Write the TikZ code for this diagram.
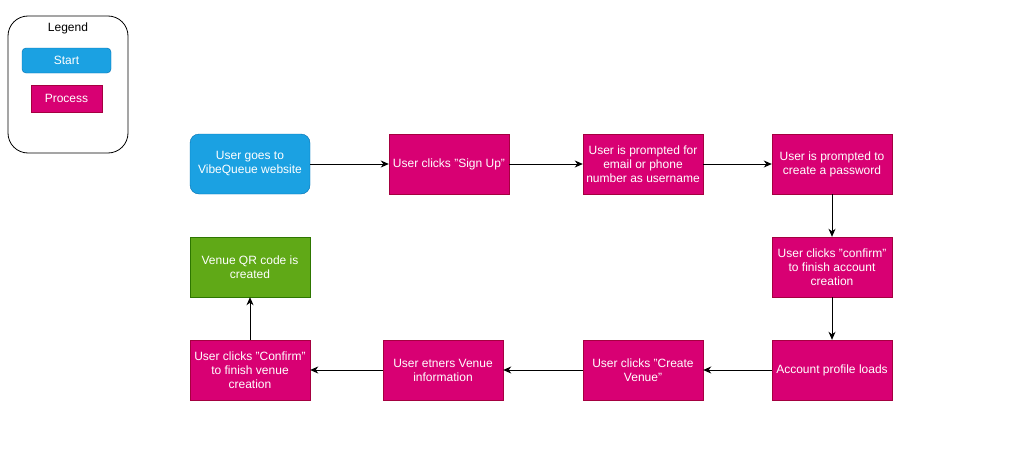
\documentclass[tikz,border=0pt]{standalone}
\usepackage{fontspec}
\setmainfont{Liberation Sans}
\usepackage{xcolor}
\usetikzlibrary{arrows.meta}

\definecolor{startfill}{HTML}{1BA1E2}
\definecolor{startline}{HTML}{006EAF}
\definecolor{procfill}{HTML}{D80073}
\definecolor{procline}{HTML}{A50040}
\definecolor{endfill}{HTML}{60A917}
\definecolor{endline}{HTML}{2D7600}

\tikzset{
  startbox/.style={draw=startline, fill=startfill, text=white, rounded corners=9pt,
    minimum width=120pt, minimum height=60pt, align=center, inner sep=0pt},
  procbox/.style={draw=procline, fill=procfill, text=white,
    minimum width=120pt, minimum height=60pt, align=center, inner sep=0pt},
  endbox/.style={draw=endline, fill=endfill, text=white,
    minimum width=120pt, minimum height=60pt, align=center, inner sep=0pt},
  flow/.style={-{Stealth[length=8pt,width=7pt,inset=2.5pt]}, line width=1pt},
}

\begin{document}
\begin{tikzpicture}[x=1pt, y=-1pt, font=\fontsize{12}{14}\selectfont]
\useasboundingbox (0, 0) rectangle (1035, 463);

% legend
\draw[rounded corners=20pt, line width=0.8pt] (8, 16) rectangle (128, 153);
\node (legend) at (68, 28.5) {Legend};
\node[startbox, minimum width=89pt, minimum height=25pt, rounded corners=4pt] (lstart) at (66.5, 60.5) {Start};
\node[procbox, minimum width=71pt, minimum height=27pt] (lproc) at (66.5, 98.5) {Process};

% top row
\node[startbox] (website) at (250, 164) {User goes to\\VibeQueue website};
\node[procbox] (signup) at (449, 164) {User clicks "Sign Up"};
\node[procbox] (email) at (643, 164) {User is prompted for\\email or phone\\number as username};
\node[procbox] (password) at (832, 164) {User is prompted to\\create a password};

% middle row
\node[procbox] (confirm) at (832, 267) {User clicks "confirm"\\to finish account\\creation};
\node[endbox] (qrcode) at (250, 267) {Venue QR code is\\created};

% bottom row
\node[procbox] (profile) at (832, 370) {Account profile loads};
\node[procbox] (create) at (643, 370) {User clicks "Create\\Venue"};
\node[procbox] (enters) at (443, 370) {User etners Venue\\information};
\node[procbox] (vconfirm) at (250, 370) {User clicks "Confirm"\\to finish venue\\creation};

\draw[flow] (website) -- (signup);
\draw[flow] (signup) -- (email);
\draw[flow] (email) -- (password);
\draw[flow] (password) -- (confirm);
\draw[flow] (confirm) -- (profile);
\draw[flow] (profile) -- (create);
\draw[flow] (create) -- (enters);
\draw[flow] (enters) -- (vconfirm);
\draw[flow] (vconfirm) -- (qrcode);
\end{tikzpicture}
\end{document}
